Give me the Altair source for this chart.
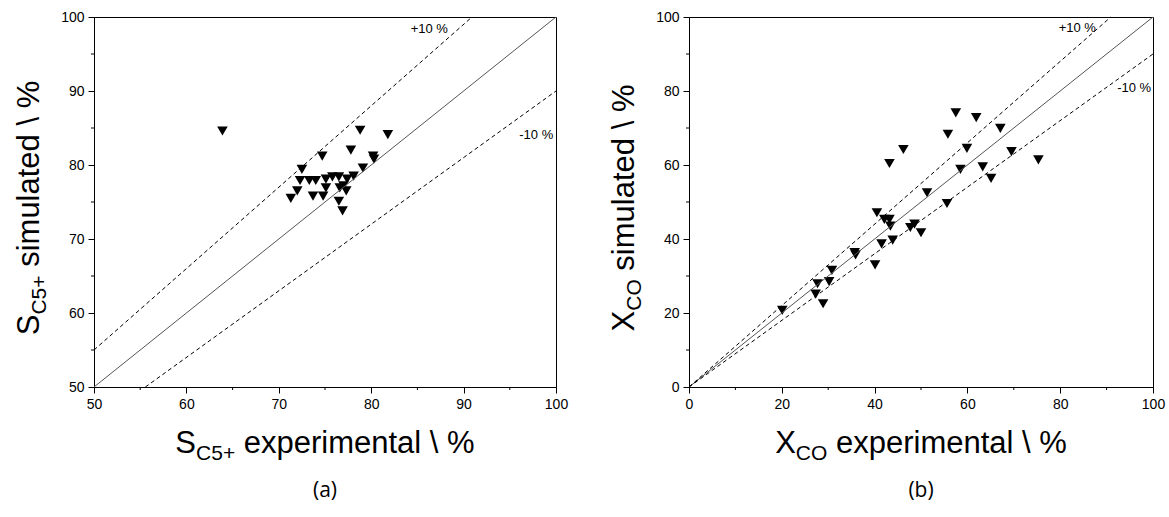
import altair as alt
import pandas as pd

# ---------------- data ----------------
# Panel (a): S_C5+ experimental vs simulated
a_exp = [78.8, 81.8, 77.8, 74.7, 80.2, 80.3, 79.1, 72.5, 72.3, 73.3, 74.0, 75.1, 75.8, 76.5,
         77.4, 78.1, 72.0, 71.3, 73.7, 74.8, 75.1, 77.0, 77.3, 76.5, 76.9, 76.6, 63.9]
a_sim = [84.7, 84.1, 82.0, 81.2, 81.2, 80.8, 79.6, 79.4, 77.9, 77.9, 77.9, 78.1, 78.4, 78.4,
         78.1, 78.5, 76.5, 75.5, 75.8, 75.8, 76.9, 77.2, 76.5, 75.1, 73.8, 76.9, 84.6]

# Panel (b): X_CO experimental vs simulated
b_exp = [57.5, 61.9, 67.1, 55.8, 46.2, 59.9, 69.5, 43.2, 58.5, 63.3, 65.1, 51.3, 55.6, 40.5,
         42.1, 43.2, 43.4, 48.6, 47.7, 50.0, 43.9, 41.5, 35.9, 35.7, 30.8, 27.7, 30.2, 40.1,
         27.3, 28.9, 20.1, 75.3]
b_sim = [74.1, 72.8, 69.9, 68.3, 64.2, 64.5, 63.6, 60.4, 58.8, 59.5, 56.4, 52.5, 49.6, 47.1,
         45.3, 45.3, 43.5, 44.0, 43.1, 41.7, 39.7, 38.7, 35.7, 36.3, 31.5, 27.9, 28.5, 33.0,
         25.1, 22.5, 20.7, 61.4]

# guide lines (parity and +/-10 %)
a_par_x, a_par_y = [50, 100], [50, 100]
a_up_x, a_up_y = [50, 90.91], [55, 100]
a_lo_x, a_lo_y = [55.56, 100], [50, 90]
b_par_x, b_par_y = [0, 100], [0, 100]
b_up_x, b_up_y = [0, 90.91], [0, 100]
b_lo_x, b_lo_y = [0, 100], [0, 90]

guide_text = ["+10 %", "-10 %"]
a_lbl_x, a_lbl_y = [88.3, 99.7], [98.4, 84.1]
b_lbl_x, b_lbl_y = [87.7, 99.6], [97.0, 80.7]

a_major = [50, 60, 70, 80, 90, 100]
a_minor = [55, 65, 75, 85, 95]
b_major = [0, 20, 40, 60, 80, 100]
b_minor = [10, 30, 50, 70, 90]

# ---------------- helpers ----------------
ARIAL = {' ': 278, 'S': 667, 'C': 722, 'O': 778, 'X': 667, '5': 556, '+': 584, 'e': 556,
         'x': 500, 'p': 556, 'r': 333, 'i': 222, 'm': 833, 'n': 556, 't': 278, 'a': 556,
         'l': 222, 's': 500, 'u': 556, 'd': 556, '\\': 278, '%': 889}


def tw(s, fs):
    return sum(ARIAL.get(c, 556) for c in s) * fs / 1000.0


FONT = "Liberation Sans"
MAIN_FS = 31
SUB_FS = 21
H = 370


def txt(text, x, y, fs, angle=0, font=FONT):
    return alt.Chart(pd.DataFrame({"t": [text]})).mark_text(
        text=text, align="left", baseline="alphabetic", font=font, fontSize=fs,
        angle=angle, color="black"
    ).encode(x=alt.value(x), y=alt.value(y))


def titles(width, main, sub, rest_x, rest_y):
    layers = []
    gap = tw(" ", MAIN_FS)
    # x title
    w_main, w_sub = tw(main, MAIN_FS), tw(sub, SUB_FS)
    w_rest = gap + tw(rest_x, MAIN_FS)
    x0 = width / 2 - (w_main + w_sub + w_rest) / 2
    yb = H + 66
    layers.append(txt(main, x0, yb, MAIN_FS))
    layers.append(txt(sub, x0 + w_main, yb + 7, SUB_FS))
    layers.append(txt(rest_x, x0 + w_main + w_sub + gap, yb, MAIN_FS))
    # y title (rotated)
    w_rest = gap + tw(rest_y, MAIN_FS)
    y0 = H / 2 + 6 + (w_main + w_sub + w_rest) / 2
    xb = -55
    layers.append(txt(main, xb, y0, MAIN_FS, 270))
    layers.append(txt(sub, xb + 7, y0 - w_main, SUB_FS, 270))
    layers.append(txt(rest_y, xb, y0 - w_main - w_sub - gap, MAIN_FS, 270))
    return layers


def panel(exp, sim, lo, hi, major, minor, lines, lbl_x, lbl_y, width, main, sub, tag, anchor=False):
    sx = alt.Scale(domain=[lo, hi], nice=False, zero=False)
    sy = alt.Scale(domain=[lo, hi], nice=False, zero=False)
    ax = alt.Axis(values=major, tickSize=6, labelPadding=4, grid=False, title=None,
                  labelFont=FONT, labelFontSize=14, labelColor="black", tickColor="black",
                  domainColor="black", labelFlush=False)

    X = lambda f: alt.X(f, scale=sx, axis=ax)
    Y = lambda f: alt.Y(f, scale=sy, axis=ax)

    pts = alt.Chart(pd.DataFrame({"x": exp, "y": sim})).mark_point(
        shape="triangle-down", filled=True, color="black", size=112, opacity=1
    ).encode(x=X("x:Q"), y=Y("y:Q"))

    layers = []
    for (lx, ly), dashed in lines:
        props = dict(color="#000000" if dashed else "#555555", strokeWidth=1)
        if dashed:
            props["strokeDash"] = [4, 3]
        layers.append(alt.Chart(pd.DataFrame({"x": lx, "y": ly})).mark_line(**props).encode(
            x=X("x:Q"), y=Y("y:Q")))

    lbl = alt.Chart(pd.DataFrame({"x": lbl_x, "y": lbl_y, "t": guide_text})).mark_text(
        align="right", baseline="middle", font=FONT, fontSize=13, color="black"
    ).encode(x=X("x:Q"), y=Y("y:Q"), text="t:N")

    mx = alt.Chart(pd.DataFrame({"x": minor})).mark_rule(color="black", strokeWidth=1).encode(
        x=X("x:Q"), y=alt.value(H), y2=alt.value(H + 3))
    my = alt.Chart(pd.DataFrame({"y": minor})).mark_rule(color="black", strokeWidth=1).encode(
        y=Y("y:Q"), x=alt.value(0), x2=alt.value(-3))

    tg = alt.Chart(pd.DataFrame({"t": [tag]})).mark_text(
        text=tag, align="center", baseline="middle", font="Open Sans", fontSize=21, color="black"
    ).encode(x=alt.value(width / 2), y=alt.value(H + 104))

    allayers = [pts] + layers + [lbl, mx, my, tg] + titles(
        width, main, sub, "experimental \\ %", "simulated \\ %")
    if anchor:
        allayers.append(alt.Chart(pd.DataFrame({"a": [0]})).mark_point(
            filled=True, size=1, opacity=0).encode(x=alt.value(-92.4), y=alt.value(-15.4)))
    return alt.layer(*allayers).properties(width=width, height=H)


pa = panel(a_exp, a_sim, 50, 100, a_major, a_minor,
           [((a_par_x, a_par_y), False), ((a_up_x, a_up_y), True), ((a_lo_x, a_lo_y), True)],
           a_lbl_x, a_lbl_y, 462, "S", "C5+", "(a)", anchor=True)
pb = panel(b_exp, b_sim, 0, 100, b_major, b_minor,
           [((b_par_x, b_par_y), False), ((b_up_x, b_up_y), True), ((b_lo_x, b_lo_y), True)],
           b_lbl_x, b_lbl_y, 464, "X", "CO", "(b)")

chart = alt.hconcat(pa, pb, spacing=133, bounds="flush").properties(
    padding=0, background="white"
).configure_view(stroke="black", strokeWidth=1)

chart.save("out.html", embed_options={"renderer": "svg", "actions": False})
